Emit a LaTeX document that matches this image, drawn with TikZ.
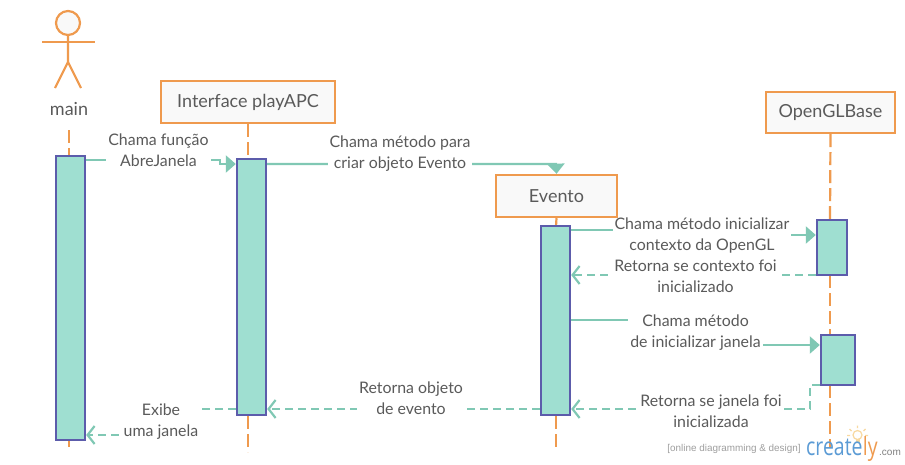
\documentclass[tikz,border=0pt]{standalone}
\usepackage{fontspec}
\setmainfont{Lato}
\newfontfamily\footfont{Liberation Sans}
\newfontfamily\logofont{Open Sans}
\usetikzlibrary{arrows.meta,calc}
\definecolor{orangeline}{HTML}{EF9A4E}
\definecolor{tealline}{HTML}{80C8B4}
\definecolor{tealfill}{HTML}{9FDFD1}
\definecolor{purpleline}{HTML}{5C5CAB}
\definecolor{labeltext}{HTML}{5A5A5A}
\definecolor{boxfill}{HTML}{F9F9F9}
\definecolor{logoblue}{HTML}{5B9BD5}
\definecolor{bulb}{HTML}{F8D9A0}
\tikzset{
  lifebox/.style={draw=orangeline,line width=2.4pt,fill=boxfill,text=labeltext,inner sep=0pt,font=\fontsize{18}{21}\selectfont},
  activation/.style={draw=purpleline,line width=2.4pt,fill=tealfill,inner sep=0pt},
  lifeline/.style={draw=orangeline,line width=2.2pt,dash pattern=on 13pt off 5pt},
  msg/.style={draw=tealline,line width=2.2pt},
  msgcall/.style={msg,-{Triangle[length=10pt,width=17pt,fill=tealline]}},
  msgret/.style={msg,dash pattern=on 8pt off 5pt,-{Straight Barb[length=7pt,width=18pt,line width=2.2pt]}},
  msglabel/.style={fill=white,text=labeltext,align=center,inner xsep=2pt,inner ysep=0pt,font=\fontsize{15.9}{21}\selectfont},
  actorline/.style={draw=orangeline,line width=2.2pt},
  bulbline/.style={draw=bulb,line width=1.2pt}
}
\begin{document}
\begin{tikzpicture}[x=1pt,y=-1pt]
\useasboundingbox (0,0) rectangle (905,464);
\fill[white] (0,0) rectangle (905,464);
% actor
\node[circle,draw=orangeline,line width=2.2pt,fill=boxfill,minimum size=24pt,inner sep=0pt] (head) at (68,23) {};
\coordinate (hip) at (68,62);
\coordinate (armL) at (42,42);
\coordinate (armR) at (95,42);
\coordinate (footL) at (55,88);
\coordinate (footR) at (81,88);
\draw[actorline] (head.south) -- (hip) -- (footL);
\draw[actorline] (hip) -- (footR);
\draw[actorline] (armL) -- (armR);
\node[text=labeltext,font=\fontsize{18}{21}\selectfont] (mainlabel) at (69,109) {main};
% heads
\node[lifebox,minimum width=174pt,minimum height=42pt] (iface) at (248,102) {Interface playAPC};
\node[lifebox,minimum width=121pt,minimum height=42pt] (evento) at (556.5,196) {Evento};
\node[lifebox,minimum width=129pt,minimum height=41pt] (gl) at (830.5,112.5) {OpenGLBase};
% activation geometry
\node[activation,minimum width=29pt,minimum height=284pt] (aMain) at (70.5,298) {};
\node[activation,minimum width=29pt,minimum height=256pt] (aIface) at (251.5,287) {};
\node[activation,minimum width=29pt,minimum height=189pt] (aEvento) at (555.5,320.5) {};
\node[activation,minimum width=30pt,minimum height=55pt] (aGlA) at (832,247.5) {};
\node[activation,minimum width=34pt,minimum height=50pt] (aGlB) at (838,360) {};
% lifelines
\coordinate (mainTop) at (69,130);
\coordinate (mainEnd) at (69,447);
\coordinate (ifaceEnd) at (248,452);
\coordinate (eventoEnd) at (556,450);
\coordinate (glEnd) at (830,448);
\draw[lifeline] (mainTop) -- (69,156);
\draw[lifeline] (69,441) -- (mainEnd);
\draw[lifeline] (iface.south) -- (248,159);
\draw[lifeline] (248,416) -- (ifaceEnd);
\draw[lifeline] (evento.south) -- (556,226);
\draw[lifeline] (556,416) -- (eventoEnd);
\draw[lifeline] (gl.south) -- (830,220);
\draw[lifeline] (830,275) -- (830,335);
\draw[lifeline] (830,385) -- (glEnd);
% connectors
\draw[msgcall] (aMain.east |- 0,160) -- (220,160) -- (220,164) -- (aIface.west |- 0,164);
\draw[msgcall] (aIface.east |- 0,164) -- (556,164) -- (evento.north);
\draw[msgcall] (aEvento.east |- 0,230) -- (700,230) -- (700,235) -- (aGlA.west |- 0,235);
\draw[msgret] (aGlA.west |- 0,275) -- (aEvento.east |- 0,275);
\draw[msgcall] (aEvento.east |- 0,320) -- (700,320) -- (700,345) -- (aGlB.west |- 0,345);
\draw[msgret] (aGlB.west |- 0,385) -- (810,385) -- (810,409) -- (aEvento.east |- 0,409);
\draw[msgret] (aEvento.west |- 0,409) -- (aIface.east |- 0,409);
\draw[msgret] (aIface.west |- 0,409) -- (160,409) -- (160,435) -- (aMain.east |- 0,435);
% activation redraw on top
\node[activation,minimum width=29pt,minimum height=284pt] at (aMain) {};
\node[activation,minimum width=29pt,minimum height=256pt] at (aIface) {};
\node[activation,minimum width=29pt,minimum height=189pt] at (aEvento) {};
\node[activation,minimum width=30pt,minimum height=55pt] at (aGlA) {};
\node[activation,minimum width=34pt,minimum height=50pt] at (aGlB) {};
% labels
\node[msglabel] (l1) at (158.5,150.5) {Chama função\\AbreJanela};
\node[msglabel] (l2) at (400,153.5) {Chama método para\\criar objeto Evento};
\node[msglabel] (l3) at (702,235.5) {Chama método inicializar\\contexto da OpenGL};
\node[msglabel] (l4) at (695.5,276) {Retorna se contexto foi\\inicializado};
\node[msglabel] (l5) at (695.5,332.5) {Chama método\\de inicializar janela};
\node[msglabel] (l6) at (711,411) {Retorna se janela foi\\inicializada};
\node[msglabel] (l7) at (411,398.5) {Retorna objeto\\de evento};
\node[msglabel] (l8) at (161,421.5) {Exibe\\uma janela};
% footer logo
\draw[bulbline] (857.5,435) circle (4.5pt);
\draw[bulbline] (855.5,440) -- (859.5,440) (855.5,442) -- (859.5,442);
\draw[bulbline] (857.5,425.5) -- (857.5,428) (849.5,429) -- (851.5,431) (865.5,429) -- (863.5,431) (847,435.5) -- (850,435.5) (868,435.5) -- (865,435.5);
\node[text=gray!75,font=\footfont\fontsize{9.9}{11}\selectfont,inner sep=0pt] (tag) at (734,449) {[online diagramming \& design]};
\node[text=logoblue,font=\logofont\fontsize{25}{28}\selectfont,inner sep=0pt,anchor=base west,xscale=0.78,transform shape] (logo) at (806,455) {create};
\node[text=orangeline,font=\logofont\fontsize{25}{28}\selectfont,inner sep=0pt,anchor=base west,xscale=0.78,transform shape] (logoy) at (logo.base east) {ly};
\node[text=gray,font=\footfont\fontsize{10}{12}\selectfont,inner sep=0pt,anchor=base west] (logocom) at (879,455) {.com};
\end{tikzpicture}
\end{document}
